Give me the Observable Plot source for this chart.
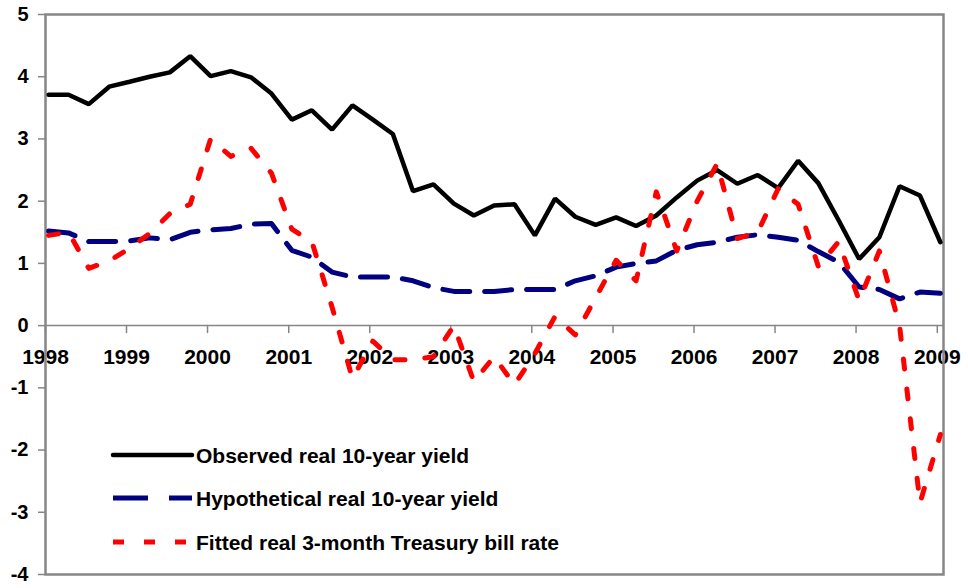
<!DOCTYPE html>
<html>
<head>
<meta charset="utf-8">
<script src="https://cdn.jsdelivr.net/npm/d3@7"></script>
<script src="https://cdn.jsdelivr.net/npm/@observablehq/plot@0.6"></script>
<style>
  html, body { margin: 0; padding: 0; background: #fff; }
  #wrap { position: relative; width: 968px; height: 588px; }
  #legend { position: absolute; left: 0; top: 0; pointer-events: none; }
</style>
</head>
<body>
<div id="wrap"></div>
<script>
const quarters = [
  "1998-01-15","1998-04-15","1998-07-15","1998-10-15",
  "1999-01-15","1999-04-15","1999-07-15","1999-10-15",
  "2000-01-15","2000-04-15","2000-07-15","2000-10-15",
  "2001-01-15","2001-04-15","2001-07-15","2001-10-15",
  "2002-01-15","2002-04-15","2002-07-15","2002-10-15",
  "2003-01-15","2003-04-15","2003-07-15","2003-10-15",
  "2004-01-15","2004-04-15","2004-07-15","2004-10-15",
  "2005-01-15","2005-04-15","2005-07-15","2005-10-15",
  "2006-01-15","2006-04-15","2006-07-15","2006-10-15",
  "2007-01-15","2007-04-15","2007-07-15","2007-10-15",
  "2008-01-15","2008-04-15","2008-07-15","2008-10-15",
  "2009-01-15"
];
const observed = [3.71,3.71,3.56,3.84,3.92,4.00,4.07,4.33,4.01,4.09,3.99,3.73,3.31,3.46,3.15,3.54,3.31,3.08,2.16,2.27,1.96,1.77,1.93,1.95,1.45,2.04,1.75,1.62,1.74,1.60,1.77,2.06,2.33,2.50,2.28,2.42,2.21,2.65,2.29,1.69,1.07,1.42,2.24,2.09,1.34];
const hypothetical = [1.52,1.49,1.35,1.35,1.36,1.41,1.38,1.50,1.54,1.56,1.63,1.64,1.21,1.10,0.86,0.78,0.78,0.78,0.72,0.61,0.55,0.55,0.55,0.58,0.58,0.58,0.72,0.80,0.94,1.00,1.04,1.21,1.30,1.34,1.42,1.46,1.42,1.37,1.19,1.02,0.62,0.58,0.43,0.54,0.52];
const fitted = [1.45,1.50,0.92,1.04,1.24,1.48,1.80,1.95,3.00,2.72,2.85,2.45,1.55,1.35,0.30,-0.85,-0.25,-0.55,-0.55,-0.50,0.00,-0.90,-0.50,-0.95,-0.45,0.15,-0.15,0.45,1.05,0.72,2.15,1.20,2.00,2.60,1.40,1.50,2.20,1.95,0.95,1.35,0.40,1.20,0.00,-2.85,-1.75];
const yearTicks = ["1998","1999","2000","2001","2002","2003","2004","2005","2006","2007","2008","2009"];
const yTicks = [-4,-3,-2,-1,0,1,2,3,4,5];
const seriesNames = ["Observed real 10-year yield","Hypothetical real 10-year yield","Fitted real 3-month Treasury bill rate"];

const data = quarters.map((q, i) => ({
  date: new Date(q + "T00:00:00Z"),
  observed: observed[i],
  hypothetical: hypothetical[i],
  fitted: fitted[i]
}));
const yearDates = yearTicks.map(y => new Date(y + "-01-01T00:00:00Z"));

const FONT = "'Liberation Sans', Arial, sans-serif";
const GRAY = "#868686";

const chart = Plot.plot({
  width: 968,
  height: 588,
  marginLeft: 45,
  marginRight: 25,
  marginTop: 14,
  marginBottom: 14,
  style: { fontFamily: FONT, background: "#fff", overflow: "visible" },
  x: { type: "utc", axis: null, domain: [new Date("1998-01-01T00:00:00Z"), new Date("2009-01-29T00:00:00Z")] },
  y: { domain: [-4, 5] },
  marks: [
    Plot.axisY(yTicks, {
      tickSize: 7, tickPadding: 10, fontSize: 20, fontWeight: "bold",
      stroke: GRAY, fill: "#000", strokeWidth: 1.5, tickFormat: d => String(d)
    }),
    Plot.ruleY([0], { stroke: GRAY, strokeWidth: 1.5 }),
    Plot.vector(yearDates, { x: d => d, y: 0, length: 7, rotate: 180, anchor: "start", stroke: GRAY, strokeWidth: 1.5, shape: { draw(ctx, l) { ctx.moveTo(0, 0); ctx.lineTo(0, -l); } } }),
    Plot.text(yearDates, { x: d => d, y: 0, dy: 32, text: (d, i) => yearTicks[i], fontSize: 21, fontWeight: "bold", fill: "#000" }),
    Plot.frame({ stroke: GRAY, strokeWidth: 2.5 }),
    Plot.line(data, { x: "date", y: "observed", stroke: "#000", strokeWidth: 4.5, strokeLinejoin: "miter" }),
    Plot.line(data, { x: "date", y: "hypothetical", stroke: "#000080", strokeWidth: 5, strokeDasharray: "27,15" }),
    Plot.line(data, { x: "date", y: "fitted", stroke: "#ff0000", strokeWidth: 5, strokeDasharray: "10,20" })
  ]
});

const wrap = document.getElementById("wrap");
wrap.appendChild(chart);

// legend overlay inside the plot area
const leg = d3.select(wrap).append("svg")
  .attr("id", "legend").attr("width", 968).attr("height", 588);
const legStyles = [
  { stroke: "#000", dash: null, width: 4.5 },
  { stroke: "#000080", dash: "35,21", width: 5 },
  { stroke: "#ff0000", dash: "11,20", width: 5 }
];
const legY = [455, 498, 542];
seriesNames.forEach((name, i) => {
  leg.append("line")
    .attr("x1", 113).attr("x2", 192).attr("y1", legY[i]).attr("y2", legY[i])
    .attr("stroke", legStyles[i].stroke).attr("stroke-width", legStyles[i].width)
    .attr("stroke-dasharray", legStyles[i].dash)
    .attr("stroke-linecap", i === 0 ? "round" : "butt");
  leg.append("text")
    .attr("x", 196).attr("y", legY[i]).attr("dy", "0.36em")
    .attr("font-family", FONT).attr("font-size", 21).attr("font-weight", "bold")
    .attr("fill", "#000").text(name);
});
</script>
</body>
</html>
